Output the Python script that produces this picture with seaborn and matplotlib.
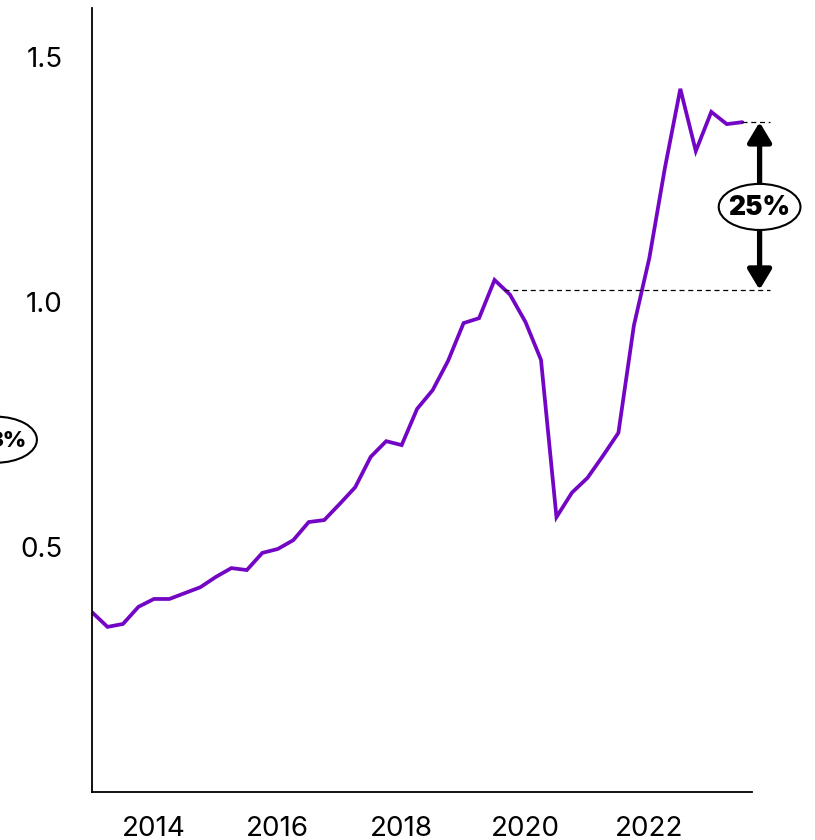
import numpy as np
import pandas as pd
import matplotlib
matplotlib.use("Agg")
import matplotlib.pyplot as plt
from matplotlib.patches import Ellipse
import seaborn as sns

# quarterly series
quarters = np.arange(2013.0, 2023.51, 0.25)
values = [0.367, 0.337, 0.343, 0.378, 0.394, 0.394, 0.406, 0.418,
          0.439, 0.457, 0.453, 0.488, 0.496, 0.514, 0.551, 0.555,
          0.588, 0.622, 0.684, 0.716, 0.708, 0.782, 0.820, 0.880,
          0.957, 0.967, 1.045, 1.015, 0.959, 0.882, 0.561, 0.611,
          0.641, 0.686, 0.733, 0.952, 1.090, 1.273, 1.435, 1.308,
          1.388, 1.363, 1.367]

# annotation values
level_now = 1.367
level_ref = 1.025
ref_start = 2019.65
label_main = "25%"
label_side = "3%"

x_ticks = [2014, 2016, 2018, 2020, 2022]
y_ticks = [0.5, 1.0, 1.5]

df = pd.DataFrame({"year": quarters, "value": values})

sns.set_style("white")
plt.rcParams["font.family"] = ["Inter", "DejaVu Sans"]

fig = plt.figure(figsize=(8.15, 8.4), dpi=100)
ax = fig.add_axes([0.1129, 0.0571, 0.81, 0.9334])

sns.lineplot(data=df, x="year", y="value", ax=ax, color="#7306c4",
             linewidth=2.7, solid_joinstyle="miter")

ax.set_xlim(2013.0, 2023.66)
ax.set_ylim(0, 1.6)
ax.set_xticks(x_ticks)
ax.set_yticks(y_ticks)
ax.set_yticklabels([f"{v:.1f}" for v in y_ticks])
ax.set_xlabel("")
ax.set_ylabel("")
sns.despine(ax=ax)
for s in ["left", "bottom"]:
    ax.spines[s].set_linewidth(1.3)
    ax.spines[s].set_color("black")
ax.tick_params(axis="both", length=8, width=1.3, color="black",
               labelsize=20, colors="black")
ax.tick_params(axis="y", pad=13)
ax.tick_params(axis="x", pad=9)

# dashed reference lines
x_end = 2023.95
ax.plot([quarters[-1], x_end], [level_now, level_now], ls=(0, (4, 3)),
        color="black", lw=0.9, clip_on=False)
ax.plot([ref_start, x_end], [level_ref, level_ref], ls=(0, (4, 3)),
        color="black", lw=0.9, clip_on=False)

# double arrow
x_arrow = 2023.78
ax.annotate("", xy=(x_arrow, level_now), xytext=(x_arrow, level_ref),
            arrowprops=dict(arrowstyle="<|-|>,head_length=0.6,head_width=0.36",
                            color="black", lw=3.8, shrinkA=0, shrinkB=0,
                            mutation_scale=20),
            annotation_clip=False)

# ellipse badges
ew, eh = 1.32, 0.094
ax.add_patch(Ellipse((x_arrow, 1.194), ew, eh, fc="white", ec="black",
                     lw=1.5, clip_on=False, zorder=5))
ax.text(x_arrow, 1.192, label_main, ha="center", va="center", fontsize=19,
        fontweight="black", color="black", clip_on=False, zorder=6)

# side label cut by the figure edge
ax.add_patch(Ellipse((2011.45, 0.719), ew, eh, fc="white", ec="black",
                     lw=1.5, clip_on=False, zorder=5))
ax.text(2011.935, 0.717, label_side, ha="right", va="center", fontsize=16,
        fontweight="black", color="black", clip_on=False, zorder=6)

fig.savefig("out.png", dpi=100)
